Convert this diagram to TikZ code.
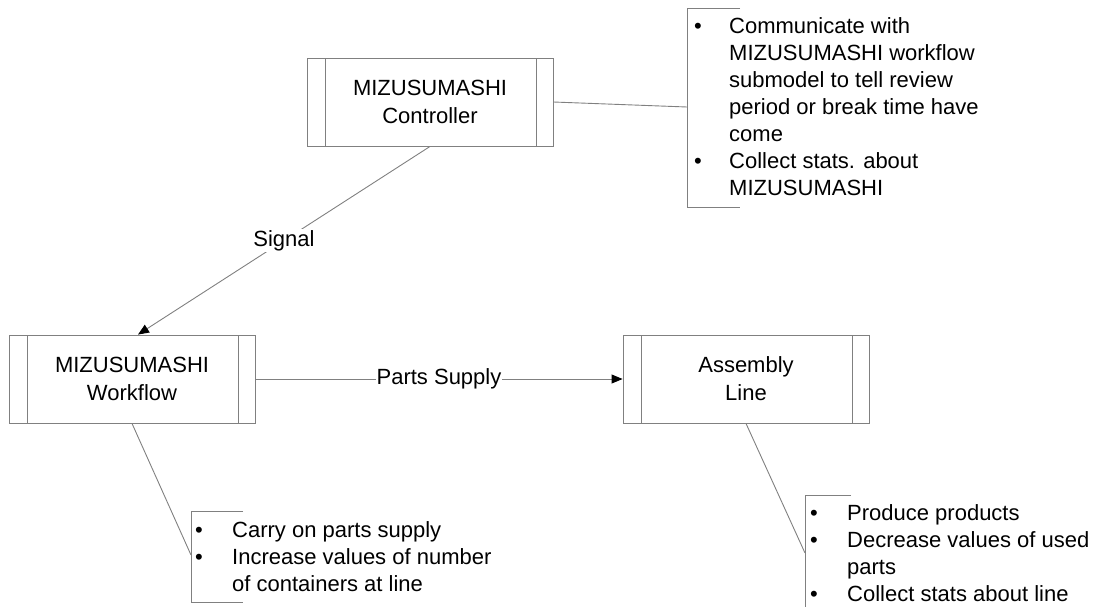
\documentclass[tikz,border=0pt]{standalone}
\usepackage{fontspec}
\setmainfont{Liberation Sans}
\usetikzlibrary{arrows.meta}
\definecolor{linegray}{RGB}{128,128,128}
\begin{document}
\begin{tikzpicture}[x=1pt,y=-1pt,
  procbox/.style={draw=linegray, line width=0.9pt, minimum width=246pt, minimum height=88pt,
    inner sep=0pt, align=center, font=\fontsize{22}{28}\selectfont,
    path picture={\draw[linegray,line width=0.9pt]
      ([xshift=18pt]path picture bounding box.north west) -- ([xshift=18pt]path picture bounding box.south west)
      ([xshift=-17pt]path picture bounding box.north east) -- ([xshift=-17pt]path picture bounding box.south east);}},
  conn/.style={linegray, line width=0.9pt},
  arr/.style={conn, -{Triangle[length=11pt,width=9pt,color=black]}},
  lbl/.style={fill=white, text=black, inner sep=1pt, font=\fontsize{22}{27}\selectfont},
  note/.style={anchor=base west, inner sep=0pt, font=\fontsize{22}{27}\selectfont},
  bracket/.style={linegray, line width=0.9pt}
]
\useasboundingbox (0,0) rectangle (1098,606);

% process boxes
\node[procbox] (ctrl) at (430,102) {MIZUSUMASHI\\Controller};
\node[procbox] (wf) at (132,379) {MIZUSUMASHI\\Workflow};
\node[procbox] (asm) at (746,379) {Assembly\\Line};

% annotation texts
\node[note] (ctrlnote) at (694,33) {\begin{tabular}[t]{@{}p{35pt}@{}l@{}}
\textbullet & Communicate with\\
 & MIZUSUMASHI workflow\\
 & submodel to tell review\\
 & period or break time have\\
 & come\\
\textbullet & Collect stats. about\\
 & MIZUSUMASHI
\end{tabular}};
\node[note] (wfnote) at (195,537) {\begin{tabular}[t]{@{}p{37pt}@{}l@{}}
\textbullet & Carry on parts supply\\
\textbullet & Increase values of number\\
 & of containers at line
\end{tabular}};
\node[note] (asmnote) at (810,520) {\begin{tabular}[t]{@{}p{37pt}@{}l@{}}
\textbullet & Produce products\\
\textbullet & Decrease values of used\\
 & parts\\
\textbullet & Collect stats about line
\end{tabular}};

% brackets
\draw[bracket] (740,8) -- (687,8) -- (687,207) -- (740,207);
\draw[bracket] (243,511) -- (191,511) -- (191,602) -- (243,602);
\draw[bracket] (851,495) -- (805,495) -- (805,608);
\coordinate (ctrlpin) at (687,107);
\coordinate (wfpin) at (191,555);
\coordinate (asmpin) at (805,553);

% connectors
\draw[arr] (ctrl.south) -- node[lbl] (sig) {Signal} ([xshift=6pt]wf.north);
\draw[arr] (wf.east) -- node[lbl] (ps) {Parts Supply} (asm.west);
\draw[conn] (ctrl.east) -- (ctrlpin);
\draw[conn] (wf.south) -- (wfpin);
\draw[conn] (asm.south) -- (asmpin);
\end{tikzpicture}
\end{document}
